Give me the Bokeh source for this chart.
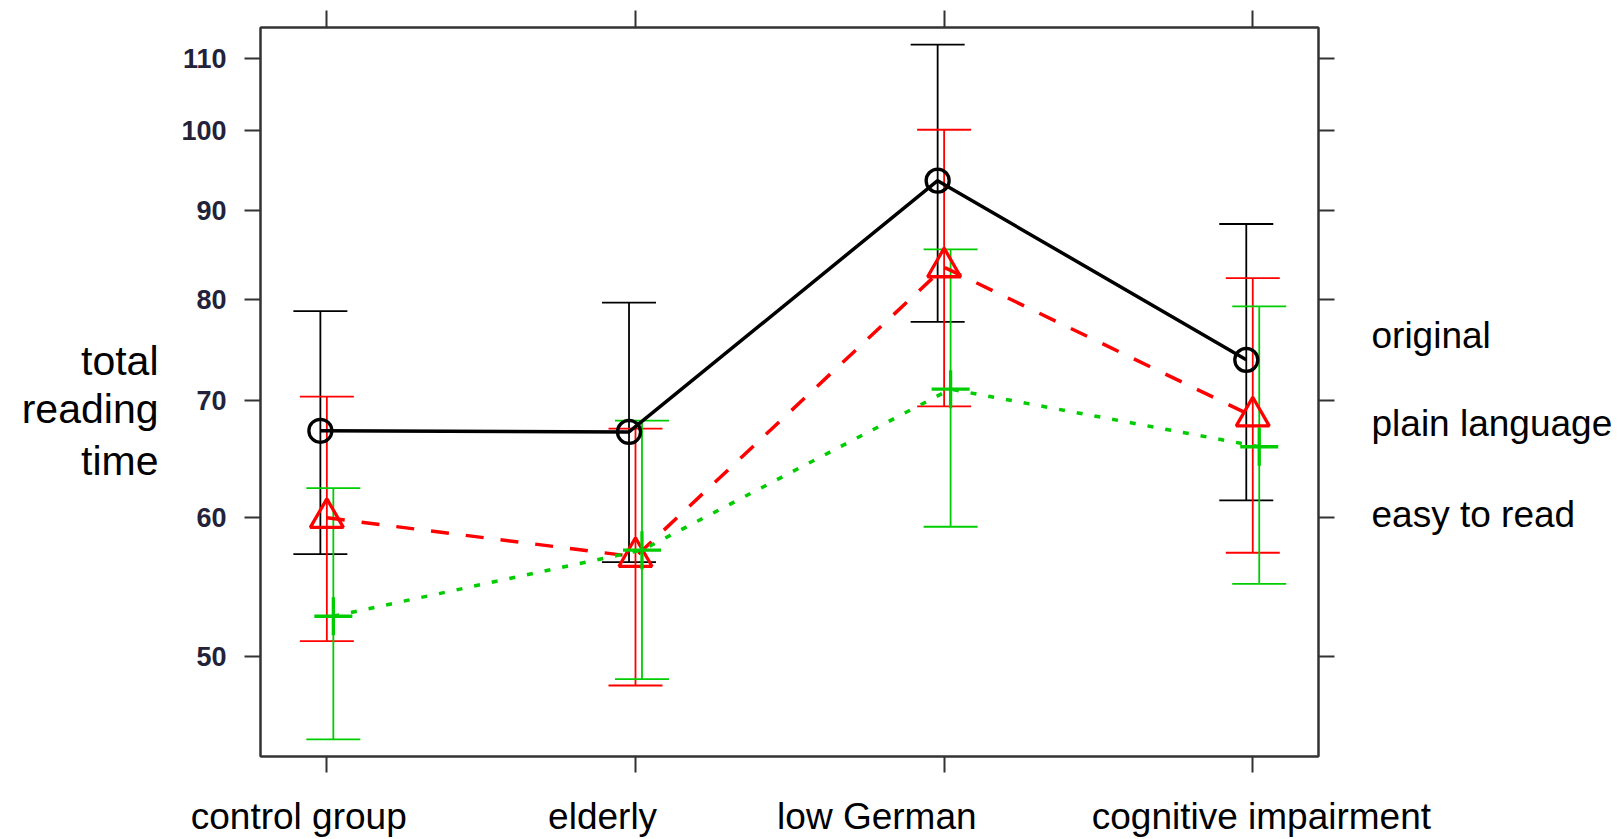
from bokeh.plotting import figure
from bokeh.models import (Range1d, FixedTicker, LinearAxis, Whisker, TeeHead,
                          ColumnDataSource, CustomJSTickFormatter)
from bokeh.embed import file_html
from bokeh.resources import INLINE

# ---------------- data ----------------
categories = ["control group", "elderly", "low German", "cognitive impairment"]
series_names = ["original", "plain language", "easy to read"]

original_mean = [67.3, 67.2, 93.6, 73.9]
original_upper = [78.8, 79.7, 112.0, 88.4]
original_lower = [57.2, 56.6, 77.7, 61.4]

plain_mean = [60.0, 57.0, 83.5, 68.6]
plain_upper = [70.4, 67.5, 100.1, 82.3]
plain_lower = [51.0, 48.1, 69.5, 57.3]

easy_mean = [52.7, 57.5, 71.1, 65.9]
easy_upper = [62.4, 68.2, 85.5, 79.3]
easy_lower = [44.8, 48.5, 59.3, 55.0]

y_ticks = [50, 60, 70, 80, 90, 100, 110]
y_label_lines = ["total", "reading", "time"]

# ---------------- layout / style ----------------
FONT = "Liberation Sans"
colors = ["#000000", "#FF0000", "#00CD00"]
dashes = ["solid", "18 17", "6 12"]
markers = ["circle", "triangle", "cross"]
marker_sizes = [23, 33, 38]
dodge = [-0.021, 0.0, 0.021]
ylabel_pos = [73.8, 69.3, 64.7]       # same order as y_label_lines
legend_pos = [76.33, 67.94, 60.26]    # same order as series_names
cat_label_pos = [0.909, 1.8935, 2.782, 4.028]

p = figure(width=1624, height=839,
           x_range=Range1d(0.785, 4.213), y_range=Range1d(43.8, 114.55),
           y_axis_type="log", x_axis_location=None, y_axis_location=None,
           output_backend="svg", toolbar_location=None,
           min_border_left=260, min_border_right=306,
           min_border_top=27, min_border_bottom=83)
p.grid.visible = False
p.outline_line_color = "#333333"
p.outline_line_width = 2
p.background_fill_color = "white"
p.border_fill_color = "white"

blank = CustomJSTickFormatter(code="return ''")


def tick_axis(ticks, out):
    return LinearAxis(ticker=FixedTicker(ticks=ticks, minor_ticks=[]),
                      major_tick_out=out, major_tick_in=0,
                      minor_tick_out=0, minor_tick_in=0,
                      axis_line_color="#333333", axis_line_width=2,
                      major_tick_line_color="#333333", major_tick_line_width=2)


def text_axis(positions, names, size, standoff):
    pairs = sorted(zip(positions, names))
    ticks = [a for a, _ in pairs]
    labels = [b for _, b in pairs]
    return LinearAxis(ticker=FixedTicker(ticks=ticks, minor_ticks=[]),
                      formatter=CustomJSTickFormatter(args=dict(names=labels),
                                                      code="return names[index]"),
                      major_tick_out=0, major_tick_in=0,
                      minor_tick_out=0, minor_tick_in=0,
                      axis_line_color=None, major_tick_line_color=None,
                      major_label_standoff=standoff,
                      major_label_text_font=FONT,
                      major_label_text_font_size=size,
                      major_label_text_color="black")


cat_idx = list(range(1, len(categories) + 1))

# left: tick labels, then y label
left_ax = tick_axis(y_ticks, 16)
left_ax.major_label_standoff = 18
left_ax.major_label_text_font = FONT
left_ax.major_label_text_font_size = "27px"
left_ax.major_label_text_font_style = "bold"
left_ax.major_label_text_color = "#22223a"
p.add_layout(left_ax, "left")
p.add_layout(text_axis(ylabel_pos, y_label_lines, "41px", 20), "left")

# right: ticks, then legend text
right_ax = tick_axis(y_ticks, 16)
right_ax.formatter = blank
right_ax.major_label_text_font_size = "0px"
right_ax.major_label_standoff = 0
p.add_layout(right_ax, "right")
p.add_layout(text_axis(legend_pos, series_names, "37px", 37), "right")

# top: ticks only
top_ax = tick_axis(cat_idx, 17)
top_ax.formatter = blank
top_ax.major_label_text_font_size = "0px"
top_ax.major_label_standoff = 0
p.add_layout(top_ax, "above")

# bottom: ticks, then category names
bot_ax = tick_axis(cat_idx, 16)
bot_ax.formatter = blank
bot_ax.major_label_text_font_size = "0px"
bot_ax.major_label_standoff = 0
p.add_layout(bot_ax, "below")
p.add_layout(text_axis(cat_label_pos, categories, "37px", 23), "below")

# ---------------- series ----------------
all_means = [original_mean, plain_mean, easy_mean]
all_upper = [original_upper, plain_upper, easy_upper]
all_lower = [original_lower, plain_lower, easy_lower]

for k in range(3):
    xs = [i + dodge[k] for i in cat_idx]
    src = ColumnDataSource(dict(x=xs, y=all_means[k],
                                upper=all_upper[k], lower=all_lower[k]))
    p.line("x", "y", source=src, line_color=colors[k], line_width=3.5,
           line_dash=dashes[k])
    p.scatter("x", "y", source=src, marker=markers[k], size=marker_sizes[k],
              fill_color=None, line_color=colors[k], line_width=3.3)
    w = Whisker(base="x", upper="upper", lower="lower", source=src,
                dimension="height", line_color=colors[k], line_width=1.8,
                upper_head=TeeHead(size=54, line_color=colors[k], line_width=1.8),
                lower_head=TeeHead(size=54, line_color=colors[k], line_width=1.8))
    p.add_layout(w)

open("out.html", "w").write(file_html(p, INLINE))
